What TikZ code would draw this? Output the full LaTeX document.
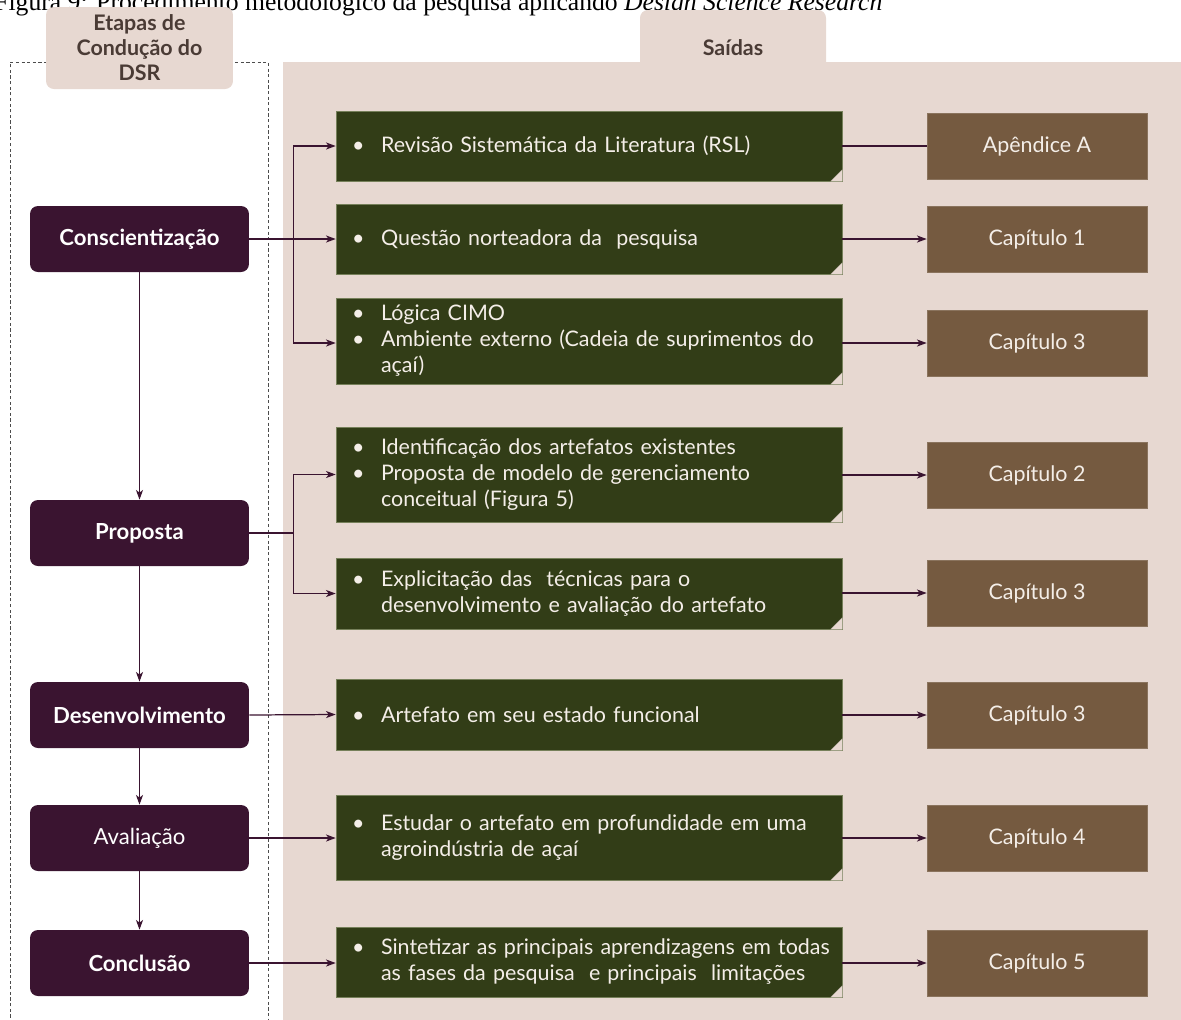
\documentclass[tikz,border=0pt]{standalone}
\usepackage{fontspec}
\setmainfont{Lato}
\newfontfamily\legenda{Liberation Serif}
\usetikzlibrary{arrows.meta}
\definecolor{rosa}{HTML}{E7D8D1}
\definecolor{roxo}{HTML}{3A1430}
\definecolor{verde}{HTML}{323D17}
\definecolor{verdeborda}{HTML}{76805A}
\definecolor{dobra}{HTML}{1E2608}
\definecolor{marrom}{HTML}{755A40}
\definecolor{textoaba}{HTML}{4A3B35}
\definecolor{claro}{HTML}{F4EEE8}
\newcommand{\blt}[1]{\noindent\makebox[0.58cm][l]{\textbullet}\parbox[t]{9.6cm}{\raggedright\hyphenpenalty=10000 #1}\par}

\tikzset{
  etapa/.style={fill=roxo,rounded corners=4.5pt,minimum width=4.38cm,minimum height=1.32cm,
    text=white,font=\fontsize{12.6}{14}\selectfont\bfseries},
  saida/.style={fill=verde,draw=verdeborda,line width=0.4pt,anchor=center,minimum width=10.12cm,
    text width=9.48cm,align=left,inner xsep=0.32cm,text=claro,font=\fontsize{12.2}{14.8}\selectfont},
  capitulo/.style={fill=marrom,draw=marrom!85!white,line width=0.4pt,minimum width=4.4cm,
    minimum height=1.32cm,text=claro,font=\fontsize{12.2}{14}\selectfont},
  aba/.style={fill=rosa,rounded corners=4.5pt,text=textoaba,align=center,
    font=\fontsize{12.2}{14.2}\selectfont\bfseries},
  seta/.style={draw=roxo,line width=0.7pt,-{Stealth[length=5.5pt,width=4pt,inset=1.5pt]}},
  liga/.style={draw=roxo,line width=0.7pt}
}

\begin{document}
\begin{tikzpicture}[x=0.02cm,y=-0.02cm]
\useasboundingbox (0,0) rectangle (1181,1019);

\node[anchor=base west,inner sep=0,font=\legenda\fontsize{14.6}{16}\selectfont] (legenda) at (-6,10)
  {Figura 9: Procedimento metodológico da pesquisa aplicando \textit{Design Science Research}};

\draw[gray!60!black,line width=0.4pt,dash pattern=on 1.8pt off 1.4pt] (10,1040) -- (10,62) -- (268,62) -- (268,1040);
\fill[rosa] (283,62) rectangle (1200,1040);
\fill[rosa,rounded corners=4.5pt] (640,80) rectangle (826,10);
\node[text=textoaba,font=\fontsize{12.2}{14}\selectfont\bfseries] (saidas) at (733,48) {Saídas};
\node[aba,minimum width=3.74cm,minimum height=1.64cm] (etapas) at (139.5,48) {Etapas de\\Condução do\\DSR};

\node[etapa] (consc) at (139.5,239) {Conscientização};
\node[etapa] (prop) at (139.5,533) {Proposta};
\node[etapa] (desenv) at (139.5,715) {Desenvolvimento};
\node[etapa,font=\fontsize{12.6}{14}\selectfont] (aval) at (139.5,838) {Avaliação};
\node[etapa] (concl) at (139.5,963) {Conclusão};

\node[saida,minimum height=1.4cm] (g1) at (589,146) {\blt{Revisão Sistemática da Literatura (RSL)}};
\node[saida,minimum height=1.4cm] (g2) at (589,239) {\blt{Questão norteadora da\ \ pesquisa}};
\node[saida,minimum height=1.72cm] (g3) at (589,341) {\blt{Lógica CIMO}\blt{Ambiente externo (Cadeia de suprimentos do\newline açaí)}};
\node[saida,minimum height=1.9cm] (g4) at (589,474.5) {\blt{Identificação dos artefatos existentes}\blt{Proposta de modelo de gerenciamento\newline conceitual (Figura 5)}};
\node[saida,minimum height=1.42cm] (g5) at (589,593.5) {\blt{Explicitação das\ \ técnicas para o\newline desenvolvimento e avaliação do artefato}};
\node[saida,minimum height=1.42cm] (g6) at (589,714.5) {\blt{Artefato em seu estado funcional}};
\node[saida,minimum height=1.7cm] (g7) at (589,837.5) {\blt{Estudar o artefato em profundidade em uma\newline agroindústria de açaí}};
\node[saida,minimum height=1.4cm] (g8) at (589,962) {\blt{Sintetizar as principais aprendizagens em todas\newline as fases da pesquisa\ \ e principais\ \ limitações}};

\foreach \i in {1,...,8}{
  \fill[rosa] (g\i.south east) -- ++(-12,0) -- ++(12,-12) -- cycle;
  \fill[dobra] (g\i.south east) ++(-12,0) -- ++(12,-12) -- ++(-4,4) -- cycle;
}

\node[capitulo] (b1) at (1037,146) {Apêndice A};
\node[capitulo] (b2) at (1037,239) {Capítulo 1};
\node[capitulo] (b3) at (1037,343) {Capítulo 3};
\node[capitulo] (b4) at (1037,475) {Capítulo 2};
\node[capitulo] (b5) at (1037,593) {Capítulo 3};
\node[capitulo] (b6) at (1037,715) {Capítulo 3};
\node[capitulo] (b7) at (1037,838) {Capítulo 4};
\node[capitulo] (b8) at (1037,963) {Capítulo 5};

\draw[seta] (consc) -- (prop);
\draw[seta] (prop) -- (desenv);
\draw[seta] (desenv) -- (aval);
\draw[seta] (aval) -- (concl);

\draw[seta] (consc.east) -- (g2.west);
\draw[seta] (consc.east) -- ++(44,0) |- (g1.west);
\draw[seta] (consc.east) -- ++(44,0) |- (g3.west |- b3.west);
\draw[seta] (prop.east) -- ++(44,0) |- (g4.west);
\draw[seta] (prop.east) -- ++(44,0) |- (g5.west);
\draw[seta] (desenv.east) -- (g6.west);
\draw[seta] (aval.east) -- (aval.east -| g7.west);
\draw[seta] (concl.east) -- (concl.east -| g8.west);

\draw[liga] (g1.east) -- (b1.west);
\foreach \i in {2,...,8}
  \draw[seta] (g\i.east |- b\i.west) -- (b\i.west);
\end{tikzpicture}
\end{document}
